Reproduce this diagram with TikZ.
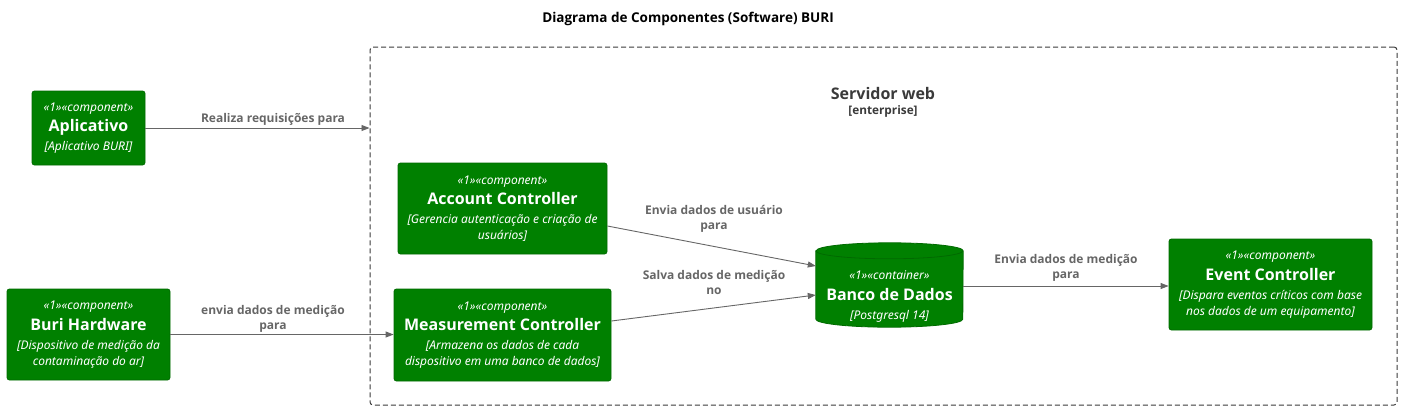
\documentclass[tikz,border=0pt]{standalone}
\usepackage{fontspec}
\IfFontExistsTF{Open Sans Bold}
  {\setmainfont{Noto Sans}[BoldFont={Open Sans Bold}]}
  {\setmainfont{Noto Sans}[BoldFont={Noto Sans}, BoldFeatures={FakeBold=2.5}]}
\usetikzlibrary{arrows.meta,calc}
\definecolor{cgreen}{HTML}{008000}
\definecolor{cdark}{HTML}{006A00}
\definecolor{cgray}{HTML}{666666}
\definecolor{bgray}{HTML}{3A3A3A}
\tikzset{
  comp/.style={fill=cgreen, draw=cdark, line width=0.8pt, rounded corners=2.5pt, text=white, align=center, inner sep=0pt, font=\fontsize{12}{16}\selectfont},
  dbshape/.style={draw=none, inner sep=0pt, minimum width=147pt, minimum height=84pt},
  wtext/.style={text=white, align=center, inner sep=0pt, font=\fontsize{12}{16}\selectfont},
  rel/.style={draw=cgray, line width=0.9pt, -{Triangle[length=8pt,width=6pt]}},
  rellabel/.style={text=cgray, align=center, inner sep=0pt, font=\bfseries\fontsize{12}{15}\selectfont},
  boundary/.style={draw=bgray, line width=1pt, dash pattern=on 5pt off 3pt, rounded corners=3pt, inner sep=0pt},
}
\newcommand{\stereo}[1]{{\itshape\fontsize{12}{16}\selectfont «1»«#1»}}
\newcommand{\ename}[1]{{\bfseries\fontsize{16}{19}\selectfont #1}}
\begin{document}
\begin{tikzpicture}[x=1pt,y=-1pt]
\useasboundingbox (0,0) rectangle (1401,410);
% title
\node[font=\bfseries\fontsize{13.5}{16}\selectfont, inner sep=0pt] (title) at (688,19) {Diagrama de Componentes (Software) BURI};
% boundary
\node[boundary, minimum width=1027pt, minimum height=358pt] (srv) at (883.5,226) {};
\node[text=bgray, font=\bfseries\fontsize{16}{19}\selectfont, inner sep=0pt] (srvname) at (883,93) {Servidor web};
\node[text=bgray, font=\bfseries\fontsize{11.8}{14}\selectfont, inner sep=0pt] (srvtype) at (883,111) {[enterprise]};
% components
\node[comp, minimum width=113pt, minimum height=74pt] (app) at (88.5,128)
  {\stereo{component}\\[4.5pt]\ename{Aplicativo}\\[3pt]{\itshape [Aplicativo BURI]}};
\node[comp, minimum width=163pt, minimum height=91pt] (hw) at (88.5,334.5)
  {\stereo{component}\\[4.5pt]\ename{Buri Hardware}\\[3pt]{\itshape [Dispositivo de medição da}\\{\itshape contaminação do ar]}};
\node[comp, minimum width=209pt, minimum height=91pt] (acc) at (502.5,208.5)
  {\stereo{component}\\[4.5pt]\ename{Account Controller}\\[3pt]{\itshape [Gerencia autenticação e criação de}\\{\itshape usuários]}};
\node[comp, minimum width=217pt, minimum height=92pt] (meas) at (502.5,335)
  {\stereo{component}\\[4.5pt]\ename{Measurement Controller}\\[3pt]{\itshape [Armazena os dados de cada}\\{\itshape dispositivo em uma banco de dados]}};
\node[comp, minimum width=203pt, minimum height=91pt] (ev) at (1270.5,284.5)
  {\stereo{component}\\[4.5pt]\ename{Event Controller}\\[3pt]{\itshape [Dispara eventos críticos com base}\\{\itshape nos dados de um equipamento]}};
% database
\node[dbshape] (db) at (889.5,285) {};
\draw[fill=cgreen, draw=cdark, line width=0.8pt]
  ([yshift=-8pt]db.north west) -- ([yshift=8pt]db.south west)
  arc[start angle=180, end angle=360, x radius=73.5pt, y radius=8pt]
  -- ([yshift=-8pt]db.north east)
  arc[start angle=0, end angle=180, x radius=73.5pt, y radius=8pt] -- cycle;
\draw[draw=cdark, line width=0.8pt] ([yshift=-8pt]db.north west)
  arc[start angle=180, end angle=360, x radius=73.5pt, y radius=8pt];
\node[wtext] (dbt) at (889.5,296.5)
  {\stereo{container}\\[4.5pt]\ename{Banco de Dados}\\[3pt]{\itshape [Postgresql 14]}};
% relations
\draw[rel] (app.east) -- (app.east -| srv.west);
\node[rellabel] (l1) at (273,119.5) {Realiza requisições para};
\draw[rel] (hw.east) -- (hw.east -| meas.west);
\node[rellabel] (l2) at (273,318.5) {envia dados de medição\\para};
\draw[rel] ([yshift=-17.5pt]acc.east) -- ([yshift=19pt]db.west);
\node[rellabel] (l3) at (714,218.5) {Envia dados de usuário\\para};
\draw[rel] ([yshift=14pt]meas.east) -- ([yshift=-10pt]db.west);
\node[rellabel] (l4) at (714,282) {Salva dados de medição\\no};
\draw[rel] ([yshift=-1pt]db.east) -- ([yshift=-1pt]db.east -| ev.west);
\node[rellabel] (l5) at (1066,268) {Envia dados de medição\\para};
\end{tikzpicture}
\end{document}
